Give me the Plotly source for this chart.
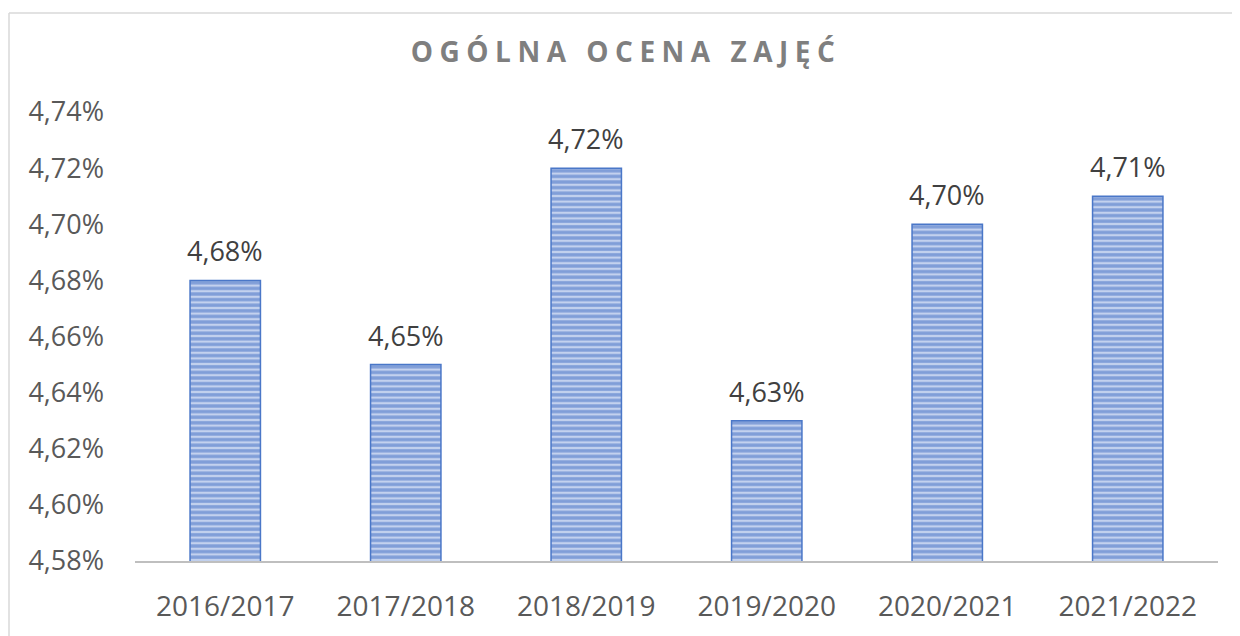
import plotly.graph_objects as go

categories = ["2016/2017", "2017/2018", "2018/2019", "2019/2020", "2020/2021", "2021/2022"]
values = [4.68, 4.65, 4.72, 4.63, 4.70, 4.71]
tick_vals = [4.58, 4.60, 4.62, 4.64, 4.66, 4.68, 4.70, 4.72, 4.74]
title_text = "OGÓLNA OCENA ZAJĘĆ"

OFF = 8  # page body margin
W, H = 1240 - OFF, 636 - OFF
L, T = 135 - OFF, 112 - OFF
pw, ph = 1083, 454
R, B = W - L - pw, H - T - ph

def pct(v):
    return f"{v:.2f}%".replace(".", ",")

fig = go.Figure()
fig.add_trace(go.Bar(
    x=categories, y=values,
    marker=dict(color="#C3D1EE",
                line=dict(color="#4A77C8", width=1.5),
                pattern=dict(shape="-", fgcolor="#3E6CC2", bgcolor="#C3D1EE",
                             size=5.6, solidity=0.6)),
    hoverinfo="skip",
))

for c, v in zip(categories, values):
    fig.add_annotation(x=c, y=v, text=pct(v), showarrow=False,
                       yanchor="bottom", yshift=9,
                       font=dict(family="Open Sans", size=27, color="#404040"))

fig.update_layout(
    width=W, height=H,
    margin=dict(l=L, r=R, t=T, b=B),
    paper_bgcolor="white", plot_bgcolor="white",
    bargap=0.61,
    showlegend=False,
    title=dict(text='<span style="letter-spacing:6.5px">' + title_text + '</span>',
               x=(626 - OFF) / W, xanchor="center", xref="container",
               y=1 - (52 - OFF) / H, yanchor="middle",
               font=dict(family="Open Sans", size=28, color="#7F7F7F", weight="bold")),
    xaxis=dict(showgrid=False, showline=True, linecolor="#BFBFBF", linewidth=2,
               ticks="", tickfont=dict(family="Open Sans", size=28, color="#595959"),
               ticklabelstandoff=19, zeroline=False),
    yaxis=dict(range=[4.58, 4.74], tickvals=tick_vals,
               ticktext=[pct(v) for v in tick_vals],
               showgrid=False, showline=False, zeroline=False, ticks="",
               tickfont=dict(family="Open Sans", size=27, color="#595959"),
               ticklabelstandoff=30),
)

# chart outer border (Excel-like)
bx0 = (9 - 135) / pw
by1 = 1 + (112 - 12) / ph
fig.add_shape(type="line", xref="paper", yref="paper", x0=bx0, x1=bx0, y0=by1, y1=-0.3,
              line=dict(color="#D9D9D9", width=1.5))
fig.add_shape(type="line", xref="paper", yref="paper", x0=bx0, x1=1.2, y0=by1, y1=by1,
              line=dict(color="#D9D9D9", width=1.5))

fig.write_html("out.html")
